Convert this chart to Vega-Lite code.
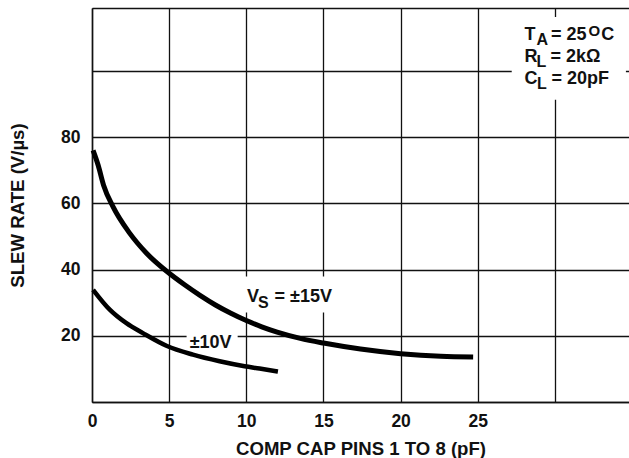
{
  "$schema": "https://vega.github.io/schema/vega-lite/v6.json",
  "width": 537,
  "height": 394,
  "autosize": {"type": "none"},
  "padding": {"left": 92, "top": 8, "right": 0, "bottom": 56},
  "background": "white",
  "config": {
    "view": {"stroke": null},
    "font": "Liberation Sans",
    "axis": {
      "grid": true,
      "gridColor": "#111",
      "gridWidth": 1.3,
      "gridOpacity": 1,
      "domainColor": "#111",
      "domainWidth": 1.5,
      "ticks": false,
      "labelFont": "Liberation Sans",
      "labelFontWeight": "bold",
      "labelFontSize": 17.5,
      "labelColor": "#111",
      "titleFont": "Liberation Sans",
      "titleFontWeight": "bold",
      "titleFontSize": 18.6,
      "titleColor": "#111"
    }
  },
  "datasets": {
    "curves": [
      {"s": "15", "x": 0.07, "y": 76.0},
      {"s": "15", "x": 0.4, "y": 71.5},
      {"s": "15", "x": 0.75, "y": 65.5},
      {"s": "15", "x": 1.36, "y": 59.0},
      {"s": "15", "x": 2.44, "y": 51.0},
      {"s": "15", "x": 3.52, "y": 45.0},
      {"s": "15", "x": 4.86, "y": 39.4},
      {"s": "15", "x": 6.0, "y": 35.4},
      {"s": "15", "x": 7.0, "y": 32.2},
      {"s": "15", "x": 8.0, "y": 29.3},
      {"s": "15", "x": 9.0, "y": 26.8},
      {"s": "15", "x": 10.0, "y": 24.6},
      {"s": "15", "x": 11.0, "y": 22.7},
      {"s": "15", "x": 12.0, "y": 21.1},
      {"s": "15", "x": 13.5, "y": 19.2},
      {"s": "15", "x": 15.0, "y": 17.8},
      {"s": "15", "x": 17.4, "y": 16.0},
      {"s": "15", "x": 20.0, "y": 14.6},
      {"s": "15", "x": 22.6, "y": 13.8},
      {"s": "15", "x": 24.7, "y": 13.6},
      {"s": "10", "x": 0.07, "y": 33.9},
      {"s": "10", "x": 1.15, "y": 27.9},
      {"s": "10", "x": 2.23, "y": 23.8},
      {"s": "10", "x": 3.3, "y": 20.8},
      {"s": "10", "x": 4.86, "y": 16.9},
      {"s": "10", "x": 6.54, "y": 14.3},
      {"s": "10", "x": 8.27, "y": 12.3},
      {"s": "10", "x": 9.89, "y": 10.8},
      {"s": "10", "x": 10.86, "y": 10.1},
      {"s": "10", "x": 12.05, "y": 9.2}
    ],
    "boxes": [
      {"x": 27.2, "x2": 34.6, "y": 91.3, "y2": 116.3},
      {"x": 9.6, "x2": 16.0, "y": 27.0, "y2": 37.9},
      {"x": 6.13, "x2": 9.44, "y": 15.2, "y2": 21.8}
    ],
    "main": [
      {"x": 28.02, "y": 109.4, "t": "T"},
      {"x": 29.74, "y": 109.4, "t": "= 25"},
      {"x": 33.0, "y": 109.4, "t": "C"},
      {"x": 28.02, "y": 102.6, "t": "R"},
      {"x": 29.71, "y": 102.6, "t": "= 2kΩ"},
      {"x": 28.02, "y": 95.9, "t": "C"},
      {"x": 29.77, "y": 95.9, "t": "= 20pF"},
      {"x": 10.04, "y": 30.07, "t": "V"},
      {"x": 11.83, "y": 30.07, "t": "= ±15V"},
      {"x": 6.33, "y": 16.3, "t": "±10V"}
    ],
    "sub": [
      {"x": 28.8, "y": 107.8, "t": "A"},
      {"x": 28.8, "y": 101.1, "t": "L"},
      {"x": 28.83, "y": 94.4, "t": "L"},
      {"x": 10.75, "y": 28.4, "t": "S"}
    ],
    "sup": [
      {"x": 32.18, "y": 110.5, "t": "O"}
    ]
  },
  "encoding": {
    "x": {
      "field": "x",
      "type": "quantitative",
      "scale": {"domain": [0, 34.8], "nice": false, "zero": false},
      "axis": {
        "values": [0, 5, 10, 15, 20, 25, 30],
        "labelExpr": "datum.value <= 25 ? datum.label : ''",
        "labelFlush": false,
        "labelPadding": 10,
        "title": "COMP CAP PINS 1 TO 8 (pF)",
        "titlePadding": 10
      }
    },
    "y": {
      "field": "y",
      "type": "quantitative",
      "scale": {"domain": [0, 119], "nice": false, "zero": false},
      "axis": {
        "values": [0, 20, 40, 60, 80, 100, 119],
        "labelExpr": "datum.value > 0 && datum.value <= 80 ? datum.label : ''",
        "labelPadding": 12,
        "labelBaseline": "middle",
        "title": "SLEW RATE (V/µs)",
        "titlePadding": 33
      }
    }
  },
  "layer": [
    {
      "data": {"name": "boxes"},
      "mark": {"type": "rect", "fill": "white", "stroke": null},
      "encoding": {
        "x2": {"field": "x2"},
        "y2": {"field": "y2"}
      }
    },
    {
      "data": {"name": "curves"},
      "transform": [{"filter": "datum.s == '15'"}],
      "mark": {"type": "line", "color": "black", "strokeWidth": 5, "interpolate": "monotone", "strokeCap": "butt"},
      "encoding": {}
    },
    {
      "data": {"name": "curves"},
      "transform": [{"filter": "datum.s == '10'"}],
      "mark": {"type": "line", "color": "black", "strokeWidth": 4.5, "interpolate": "monotone", "strokeCap": "butt"},
      "encoding": {}
    },
    {
      "data": {"name": "main"},
      "mark": {"type": "text", "align": "left", "baseline": "alphabetic", "font": "Liberation Sans", "fontWeight": "bold", "fontSize": 18, "color": "#111"},
      "encoding": {"text": {"field": "t"}}
    },
    {
      "data": {"name": "sub"},
      "mark": {"type": "text", "align": "left", "baseline": "alphabetic", "font": "Liberation Sans", "fontWeight": "bold", "fontSize": 16, "color": "#111"},
      "encoding": {"text": {"field": "t"}}
    },
    {
      "data": {"name": "sup"},
      "mark": {"type": "text", "align": "left", "baseline": "alphabetic", "font": "Liberation Sans", "fontWeight": "bold", "fontSize": 15, "color": "#111"},
      "encoding": {"text": {"field": "t"}}
    }
  ]
}
